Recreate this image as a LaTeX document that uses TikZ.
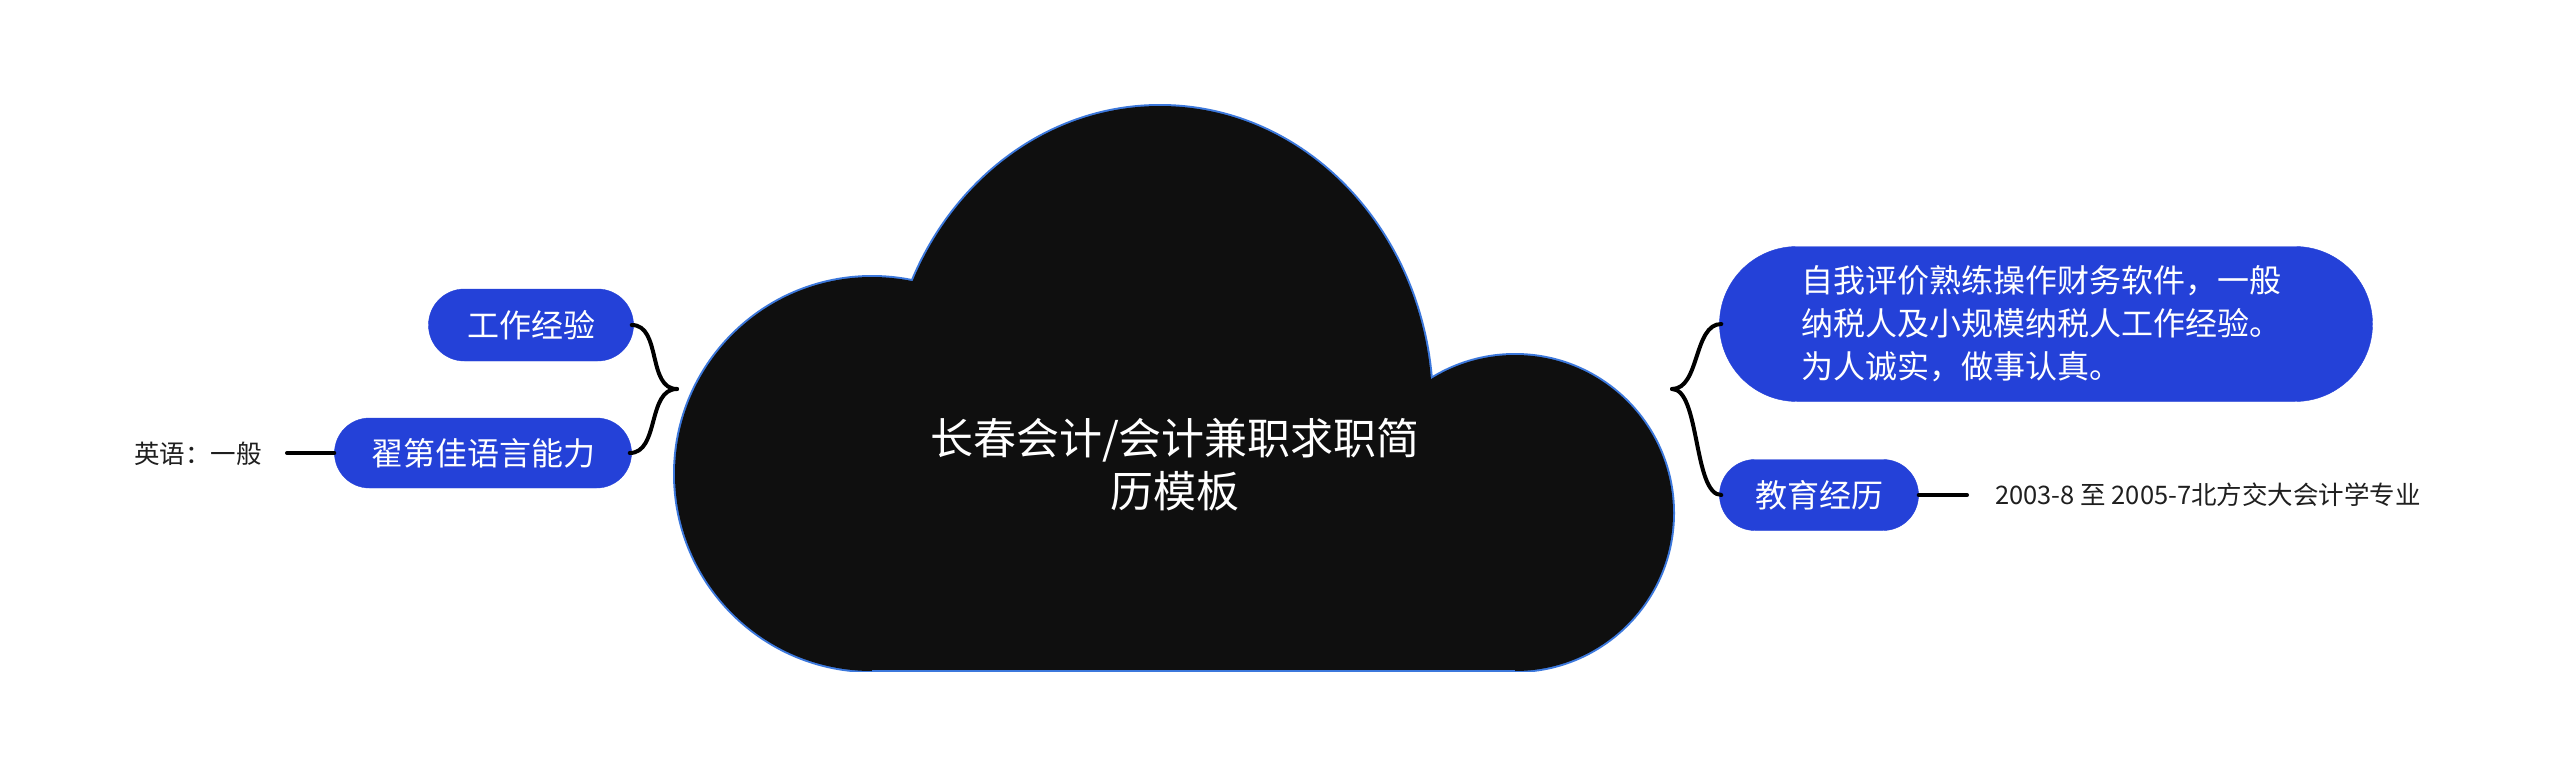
\documentclass[tikz,border=0pt]{standalone}
\usepackage{fontspec}
\setmainfont{Noto Sans CJK SC}
\usetikzlibrary{shapes.misc}
\definecolor{nodeblue}{HTML}{2441D8}
\definecolor{cloudline}{HTML}{3C78DC}
\definecolor{cloudfill}{HTML}{0F0F0F}
\definecolor{txt}{HTML}{1F1F1F}
\begin{document}
\begin{tikzpicture}[x=1pt,y=-1pt,
  topic/.style={rounded rectangle, fill=nodeblue, draw=nodeblue, text=white, inner sep=0pt,
    font=\fontsize{32}{43}\selectfont},
  leaf/.style={text=txt, inner sep=0pt, font=\fontsize{25.5}{30}\selectfont},
  conn/.style={draw=black, line width=4pt, line cap=round},
  cloudstroke/.style={draw=cloudline, line width=4pt}]
\useasboundingbox (0,0) rectangle (2560,779);
\fill[white] (0,0) rectangle (2560,779);
% cloud
\begin{scope}
  \clip (600,80) rectangle (1720,671);
  \draw[cloudstroke] (872,474) circle[radius=197];
  \draw[cloudstroke] (1160,406) ellipse[x radius=272, y radius=300];
  \draw[cloudstroke] (1515,513) ellipse[x radius=158, y radius=158];
  \fill[cloudfill] (872,474) circle[radius=197];
  \fill[cloudfill] (1160,406) ellipse[x radius=272, y radius=300];
  \fill[cloudfill] (1515,513) ellipse[x radius=158, y radius=158];
  \fill[cloudfill] (872,474) rectangle (1515,671);
\end{scope}
\draw[draw=cloudline, line width=2pt] (872,671) -- (1515,671);
\node[text=white, align=center, inner sep=0pt, font=\fontsize{43}{53}\selectfont] (title) at (1175,465) {长春会计/会计兼职求职简\\历模板};
% left side
\node[topic, minimum width=205pt, minimum height=72pt] (gz) at (531,325) {工作经验};
\node[topic, minimum width=297pt, minimum height=70pt] (yy) at (483,453) {翟第佳语言能力};
\node[leaf] (yyleaf) at (198,454) {英语：一般};
\coordinate (tipL) at (677,389);
\coordinate (yyend) at (287,453);
% right side
\node[topic, minimum width=653pt, minimum height=155pt, text width=490pt, align=left] (zw) at (2046,324) {自我评价熟练操作财务软件，一般\\纳税人及小规模纳税人工作经验。\\为人诚实，做事认真。};
\node[topic, minimum width=199pt, minimum height=71pt] (jy) at (1819,495) {教育经历};
\node[leaf, anchor=west] (jyleaf) at (1995,495) {2003-8 至 2005-7北方交大会计学专业};
\coordinate (tipR) at (1672,389);
\coordinate (jyend) at (1967,495);
% connectors
\draw[conn] ([xshift=-2pt]gz.east) .. controls +(30,0) and +(-30,0) .. (tipL);
\draw[conn] ([xshift=-2pt]yy.east) .. controls +(30,0) and +(-30,0) .. (tipL);
\draw[conn] (tipR) .. controls +(28,0) and +(-28,0) .. ([xshift=2pt]zw.west);
\draw[conn] (tipR) .. controls +(28,0) and +(-28,0) .. ([xshift=2pt]jy.west);
\draw[conn] (yy.west) -- (yyend);
\draw[conn] (jy.east) -- (jyend);
\end{tikzpicture}
\end{document}
